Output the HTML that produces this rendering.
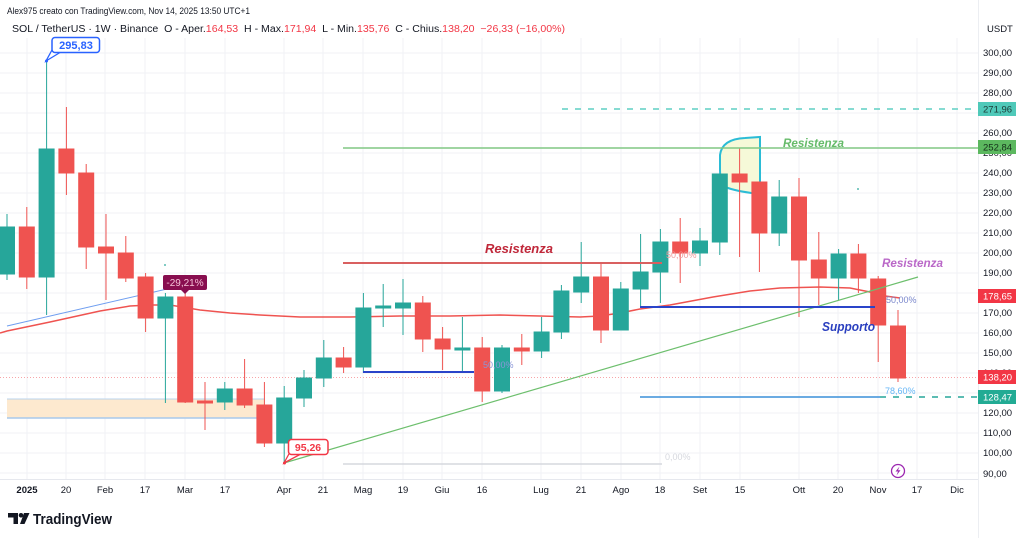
<!DOCTYPE html>
<html>
<head>
<meta charset="utf-8">
<style>
html,body{margin:0;padding:0;background:#fff;}
svg{display:block;}
text{font-family:"Liberation Sans",Arial,sans-serif;}
</style>
</head>
<body>
<svg width="1024" height="538" viewBox="0 0 1024 538" xmlns="http://www.w3.org/2000/svg">
<rect width="1024" height="538" fill="#ffffff"/>

<!-- grid -->
<g stroke="#f0f2f6" stroke-width="1">
<line x1="0" x2="978" y1="53" y2="53"/><line x1="0" x2="978" y1="73" y2="73"/><line x1="0" x2="978" y1="93" y2="93"/><line x1="0" x2="978" y1="113" y2="113"/><line x1="0" x2="978" y1="133" y2="133"/><line x1="0" x2="978" y1="153" y2="153"/><line x1="0" x2="978" y1="173" y2="173"/><line x1="0" x2="978" y1="193" y2="193"/><line x1="0" x2="978" y1="213" y2="213"/><line x1="0" x2="978" y1="233" y2="233"/><line x1="0" x2="978" y1="253" y2="253"/><line x1="0" x2="978" y1="273" y2="273"/><line x1="0" x2="978" y1="293" y2="293"/><line x1="0" x2="978" y1="313" y2="313"/><line x1="0" x2="978" y1="333" y2="333"/><line x1="0" x2="978" y1="353" y2="353"/><line x1="0" x2="978" y1="373" y2="373"/><line x1="0" x2="978" y1="393" y2="393"/><line x1="0" x2="978" y1="413" y2="413"/><line x1="0" x2="978" y1="433" y2="433"/><line x1="0" x2="978" y1="453" y2="453"/><line x1="0" x2="978" y1="473" y2="473"/>
<line y1="38" y2="479" x1="27" x2="27"/><line y1="38" y2="479" x1="66" x2="66"/><line y1="38" y2="479" x1="105" x2="105"/><line y1="38" y2="479" x1="145" x2="145"/><line y1="38" y2="479" x1="185" x2="185"/><line y1="38" y2="479" x1="225" x2="225"/><line y1="38" y2="479" x1="284" x2="284"/><line y1="38" y2="479" x1="323" x2="323"/><line y1="38" y2="479" x1="363" x2="363"/><line y1="38" y2="479" x1="403" x2="403"/><line y1="38" y2="479" x1="442" x2="442"/><line y1="38" y2="479" x1="482" x2="482"/><line y1="38" y2="479" x1="541" x2="541"/><line y1="38" y2="479" x1="581" x2="581"/><line y1="38" y2="479" x1="621" x2="621"/><line y1="38" y2="479" x1="660" x2="660"/><line y1="38" y2="479" x1="700" x2="700"/><line y1="38" y2="479" x1="740" x2="740"/><line y1="38" y2="479" x1="799" x2="799"/><line y1="38" y2="479" x1="838" x2="838"/><line y1="38" y2="479" x1="878" x2="878"/><line y1="38" y2="479" x1="917" x2="917"/><line y1="38" y2="479" x1="957" x2="957"/>
</g>
<!-- axis separators -->
<line x1="0" x2="978" y1="479.5" y2="479.5" stroke="#e6e8ee" stroke-width="1"/>
<line x1="978.5" x2="978.5" y1="0" y2="538" stroke="#eceef2" stroke-width="1"/>

<!-- orange band -->
<rect x="7" y="399" width="258" height="19" fill="#fde9cf"/>
<line x1="7" x2="265" y1="399" y2="399" stroke="#b9d3ee" stroke-width="1"/>
<line x1="7" x2="265" y1="418" y2="418" stroke="#a8c9ec" stroke-width="1.5"/>

<!-- fib 0% grey line -->
<line x1="343" x2="662" y1="464" y2="464" stroke="#d6d8de" stroke-width="1.5"/>
<text x="665" y="460" font-size="9" fill="#d6d8de">0,00%</text>

<!-- current price dotted line -->
<line x1="0" x2="978" y1="377.5" y2="377.5" stroke="#f7a5a9" stroke-width="1" stroke-dasharray="1,2"/>

<!-- highlighter shape -->
<path d="M728,188 Q720,185 720,170 L720,155 Q722,139 745,138 L760,137 L760,194 Q740,192 728,188 Z" fill="#f6f9d8" stroke="#2bbcd6" stroke-width="2"/>

<!-- thin blue measurement line -->
<line x1="7" y1="326" x2="180" y2="286" stroke="#6f9ef0" stroke-width="1"/>

<!-- MA -->
<polyline fill="none" stroke="#ef5350" stroke-width="1.5" points="0,333 7,331 50,322 100,311 130,306 150,305 170,305 200,310 230,313 260,315 300,317 350,317 400,316 450,316 500,315 540,316 580,317 600,316 620,313 640,309 670,305 713,297 750,291 780,288 820,287 850,288 870,292 885,296 900,298"/>

<!-- candles green -->
<g stroke="#26a69a" fill="#26a69a" stroke-width="1">
<line x1="7" x2="7" y1="214" y2="280"/><rect x="-0.5" y="227" width="15" height="47"/>
<line x1="46.6" x2="46.6" y1="61" y2="315"/><rect x="39.1" y="149" width="15" height="128"/>
<line x1="165.4" x2="165.4" y1="293" y2="403"/><rect x="157.9" y="297" width="15" height="21"/>
<line x1="224.8" x2="224.8" y1="382" y2="410"/><rect x="217.3" y="389" width="15" height="13"/>
<line x1="284.2" x2="284.2" y1="386" y2="463"/><rect x="276.7" y="398" width="15" height="45"/>
<line x1="304" x2="304" y1="370" y2="407"/><rect x="296.5" y="378" width="15" height="20"/>
<line x1="323.8" x2="323.8" y1="340" y2="387"/><rect x="316.3" y="358" width="15" height="20"/>
<line x1="363.4" x2="363.4" y1="293" y2="373"/><rect x="355.9" y="308" width="15" height="59"/>
<line x1="383.2" x2="383.2" y1="284" y2="327"/><rect x="375.7" y="306" width="15" height="2"/>
<line x1="403" x2="403" y1="279" y2="335"/><rect x="395.5" y="303" width="15" height="5"/>
<line x1="462.4" x2="462.4" y1="317" y2="373"/><rect x="454.9" y="348" width="15" height="2"/>
<line x1="502" x2="502" y1="345" y2="393"/><rect x="494.5" y="348" width="15" height="43"/>
<line x1="541.6" x2="541.6" y1="317" y2="358"/><rect x="534.1" y="332" width="15" height="19"/>
<line x1="561.4" x2="561.4" y1="285" y2="339"/><rect x="553.9" y="291" width="15" height="41"/>
<line x1="581.2" x2="581.2" y1="242" y2="303"/><rect x="573.7" y="277" width="15" height="15"/>
<line x1="620.8" x2="620.8" y1="282" y2="330"/><rect x="613.3" y="289" width="15" height="41"/>
<line x1="640.6" x2="640.6" y1="234" y2="306"/><rect x="633.1" y="272" width="15" height="17"/>
<line x1="660.4" x2="660.4" y1="229" y2="303"/><rect x="652.9" y="242" width="15" height="30"/>
<line x1="700" x2="700" y1="228" y2="266"/><rect x="692.5" y="241" width="15" height="12"/>
<line x1="719.8" x2="719.8" y1="174" y2="255"/><rect x="712.3" y="174" width="15" height="68"/>
<line x1="779.2" x2="779.2" y1="180" y2="246"/><rect x="771.7" y="197" width="15" height="36"/>
<line x1="838.6" x2="838.6" y1="249" y2="300"/><rect x="831.1" y="254" width="15" height="24"/>
</g>
<!-- candles red -->
<g stroke="#ef5350" fill="#ef5350" stroke-width="1">
<line x1="26.8" x2="26.8" y1="207" y2="289"/><rect x="19.3" y="227" width="15" height="50"/>
<line x1="66.4" x2="66.4" y1="107" y2="195"/><rect x="58.9" y="149" width="15" height="24"/>
<line x1="86.2" x2="86.2" y1="164" y2="269"/><rect x="78.7" y="173" width="15" height="74"/>
<line x1="106" x2="106" y1="214" y2="300"/><rect x="98.5" y="247" width="15" height="6"/>
<line x1="125.8" x2="125.8" y1="236" y2="282"/><rect x="118.3" y="253" width="15" height="25"/>
<line x1="145.6" x2="145.6" y1="273" y2="332"/><rect x="138.1" y="277" width="15" height="41"/>
<line x1="185.2" x2="185.2" y1="293" y2="403"/><rect x="177.7" y="297" width="15" height="105"/>
<line x1="205" x2="205" y1="382" y2="430"/><rect x="197.5" y="401" width="15" height="2"/>
<line x1="244.6" x2="244.6" y1="359" y2="408"/><rect x="237.1" y="389" width="15" height="16"/>
<line x1="264.4" x2="264.4" y1="382" y2="447"/><rect x="256.9" y="405" width="15" height="38"/>
<line x1="343.6" x2="343.6" y1="347" y2="373"/><rect x="336.1" y="358" width="15" height="9"/>
<line x1="422.8" x2="422.8" y1="296" y2="352"/><rect x="415.3" y="303" width="15" height="36"/>
<line x1="442.6" x2="442.6" y1="327" y2="370"/><rect x="435.1" y="339" width="15" height="10"/>
<line x1="482.2" x2="482.2" y1="337" y2="402"/><rect x="474.7" y="348" width="15" height="43"/>
<line x1="521.8" x2="521.8" y1="334" y2="365"/><rect x="514.3" y="348" width="15" height="3"/>
<line x1="601" x2="601" y1="263" y2="343"/><rect x="593.5" y="277" width="15" height="53"/>
<line x1="680.2" x2="680.2" y1="218" y2="283"/><rect x="672.7" y="242" width="15" height="11"/>
<line x1="739.6" x2="739.6" y1="148" y2="257"/><rect x="732.1" y="174" width="15" height="8"/>
<line x1="759.4" x2="759.4" y1="182" y2="272"/><rect x="751.9" y="182" width="15" height="51"/>
<line x1="799" x2="799" y1="178" y2="317"/><rect x="791.5" y="197" width="15" height="63"/>
<line x1="818.8" x2="818.8" y1="232" y2="305"/><rect x="811.3" y="260" width="15" height="18"/>
<line x1="858.4" x2="858.4" y1="244" y2="293"/><rect x="850.9" y="254" width="15" height="24"/>
<line x1="878.2" x2="878.2" y1="276" y2="362"/><rect x="870.7" y="279" width="15" height="46"/>
<line x1="898" x2="898" y1="310" y2="382"/><rect x="890.5" y="326" width="15" height="52"/>
</g>

<!-- drawings -->
<line x1="562" x2="978" y1="109" y2="109" stroke="#5fcfc3" stroke-width="1.5" stroke-dasharray="6,7"/>
<line x1="343" x2="978" y1="148" y2="148" stroke="#81c784" stroke-width="1.5"/>
<text x="783" y="147" font-size="12" font-weight="bold" font-style="italic" fill="#66bb6a" textLength="61" lengthAdjust="spacingAndGlyphs">Resistenza</text>

<line x1="343" x2="662" y1="263" y2="263" stroke="#d96060" stroke-width="2"/>
<text x="485" y="253" font-size="13" font-weight="bold" font-style="italic" fill="#c0283a" textLength="68" lengthAdjust="spacingAndGlyphs">Resistenza</text>
<text x="666" y="258" font-size="9" fill="#ef9a9a">50,00%</text>

<line x1="284" y1="463" x2="918" y2="277" stroke="#6dbf6d" stroke-width="1.2"/>

<line x1="640" x2="875" y1="307" y2="307" stroke="#2a44c9" stroke-width="2"/>
<text x="822" y="331" font-size="12.5" font-weight="bold" font-style="italic" fill="#2a3fbf" textLength="53" lengthAdjust="spacingAndGlyphs">Supporto</text>
<text x="882" y="267" font-size="12" font-weight="bold" font-style="italic" fill="#ba68c8" textLength="61" lengthAdjust="spacingAndGlyphs">Resistenza</text>
<text x="886" y="303" font-size="9" fill="#7986cb">50,00%</text>

<line x1="363" x2="474" y1="372" y2="372" stroke="#2a44c9" stroke-width="2"/>
<text x="483" y="368" font-size="9" fill="#8a96d8">50,00%</text>

<line x1="640" x2="880" y1="397" y2="397" stroke="#3a8fd9" stroke-width="1.5"/>
<line x1="880" x2="978" y1="397" y2="397" stroke="#26a69a" stroke-width="1.5" stroke-dasharray="6,7"/>
<text x="885" y="394" font-size="9" fill="#64b5f6">78,60%</text>

<!-- callouts -->
<path d="M52,50 L46,61 L60,52.5 Z" fill="#ffffff" stroke="#2962ff" stroke-width="1.3"/>
<rect x="52" y="37.5" width="47.5" height="15" rx="3" fill="#ffffff" stroke="#2962ff" stroke-width="1.5"/>
<circle cx="46.5" cy="61" r="1.5" fill="#2962ff"/>
<text x="76" y="49" font-size="11" font-weight="bold" fill="#2962ff" text-anchor="middle">295,83</text>

<path d="M290,452 L284,463 L300,454.5 Z" fill="#ffffff" stroke="#f23645" stroke-width="1.3"/>
<rect x="288.5" y="439.5" width="39.5" height="15" rx="3" fill="#ffffff" stroke="#f23645" stroke-width="1.5"/>
<circle cx="284.5" cy="463" r="1.5" fill="#f23645"/>
<text x="308" y="451" font-size="10.5" font-weight="bold" fill="#f23645" text-anchor="middle">95,26</text>

<rect x="163" y="275" width="44" height="15" rx="2" fill="#880e4f"/>
<path d="M181,290 L189,290 L185,294 Z" fill="#880e4f"/>
<text x="185" y="286" font-size="10" fill="#f5c2d7" text-anchor="middle">-29,21%</text>

<circle cx="165" cy="265" r="0.9" fill="#26a69a"/>
<circle cx="858" cy="189" r="0.9" fill="#26a69a"/>

<!-- lightning icon -->
<circle cx="898" cy="471" r="6.5" fill="#ffffff" stroke="#9c27b0" stroke-width="1.3"/>
<path d="M899.5,466.5 L895.5,471.5 L898,471.5 L896.5,475.5 L900.5,470.2 L898,470.2 Z" fill="#9c27b0"/>

<!-- header -->
<text x="7" y="14" font-size="9" fill="#131722" textLength="243" lengthAdjust="spacingAndGlyphs">Alex975 creato con TradingView.com, Nov 14, 2025 13:50 UTC+1</text>
<text x="12" y="32" font-size="10" fill="#131722" style="white-space:pre" textLength="553" lengthAdjust="spacingAndGlyphs">SOL / TetherUS · 1W · Binance  O - Aper.<tspan fill="#f23645">164,53</tspan>  H - Max.<tspan fill="#f23645">171,94</tspan>  L - Min.<tspan fill="#f23645">135,76</tspan>  C - Chius.<tspan fill="#f23645">138,20</tspan>  <tspan fill="#f23645">−26,33 (−16,00%)</tspan></text>

<!-- price axis -->
<g font-size="9.5" fill="#131722">
<text x="987" y="32">USDT</text>
<text x="983" y="56">300,00</text>
<text x="983" y="76">290,00</text>
<text x="983" y="96">280,00</text>
<text x="983" y="136">260,00</text>
<text x="983" y="156">250,00</text>
<text x="983" y="176">240,00</text>
<text x="983" y="196">230,00</text>
<text x="983" y="216">220,00</text>
<text x="983" y="236">210,00</text>
<text x="983" y="256">200,00</text>
<text x="983" y="276">190,00</text>
<text x="983" y="316">170,00</text>
<text x="983" y="336">160,00</text>
<text x="983" y="356">150,00</text>
<text x="983" y="376">140,00</text>
<text x="983" y="416">120,00</text>
<text x="983" y="436">110,00</text>
<text x="983" y="456">100,00</text>
<text x="983" y="477">90,00</text>
</g>
<rect x="978" y="102" width="38" height="14" fill="#4fc9b9"/>
<text x="983" y="112.5" font-size="9.5" fill="#1c3a36">271,96</text>
<rect x="978" y="140" width="38" height="14" fill="#5cb85f"/>
<text x="983" y="150.5" font-size="9.5" fill="#14301a">252,84</text>
<rect x="978" y="289" width="38" height="14" fill="#f23645"/>
<text x="983" y="299.5" font-size="9.5" fill="#ffffff">178,65</text>
<rect x="978" y="370" width="38" height="14" fill="#f23645"/>
<text x="983" y="380.5" font-size="9.5" fill="#ffffff">138,20</text>
<rect x="978" y="390" width="38" height="14" fill="#22ab94"/>
<text x="983" y="400.5" font-size="9.5" fill="#ffffff">128,47</text>

<!-- time axis -->
<g font-size="9.5" fill="#131722" text-anchor="middle">
<text x="27" y="493" font-weight="bold">2025</text>
<text x="66" y="493">20</text>
<text x="105" y="493">Feb</text>
<text x="145" y="493">17</text>
<text x="185" y="493">Mar</text>
<text x="225" y="493">17</text>
<text x="284" y="493">Apr</text>
<text x="323" y="493">21</text>
<text x="363" y="493">Mag</text>
<text x="403" y="493">19</text>
<text x="442" y="493">Giu</text>
<text x="482" y="493">16</text>
<text x="541" y="493">Lug</text>
<text x="581" y="493">21</text>
<text x="621" y="493">Ago</text>
<text x="660" y="493">18</text>
<text x="700" y="493">Set</text>
<text x="740" y="493">15</text>
<text x="799" y="493">Ott</text>
<text x="838" y="493">20</text>
<text x="878" y="493">Nov</text>
<text x="917" y="493">17</text>
<text x="957" y="493">Dic</text>
</g>

<!-- logo -->
<g fill="#131722">
<path d="M8,513 h10 v11 h-4.5 v-6.5 h-5.5 z"/>
<circle cx="21" cy="515.3" r="2.3"/>
<path d="M24,513 h5.5 l-5,11 h-4.5 z"/>
</g>
<text x="33" y="524" font-size="15" font-weight="bold" fill="#131722" textLength="79" lengthAdjust="spacingAndGlyphs">TradingView</text>
</svg>
</body>
</html>
